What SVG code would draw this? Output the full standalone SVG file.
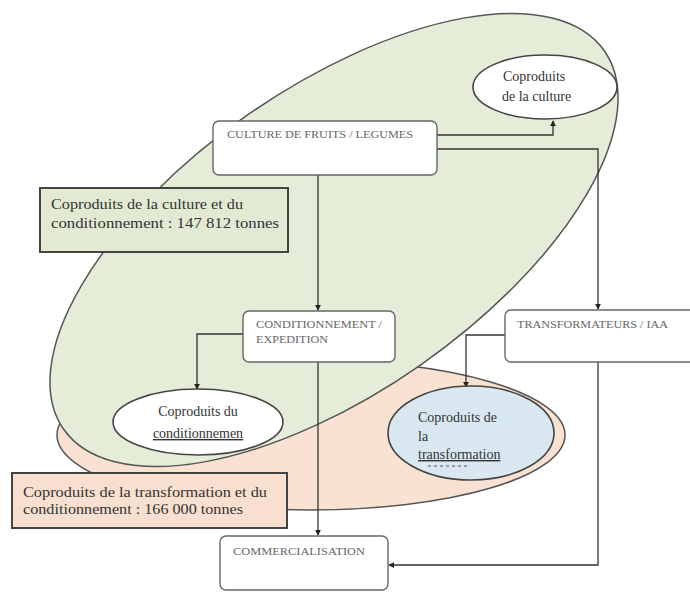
<svg xmlns="http://www.w3.org/2000/svg" width="690" height="592" viewBox="0 0 690 592">
<style>
.zone{stroke:#555;stroke-width:1.5}
.box{fill:#fff;stroke:#666;stroke-width:1.4}
.lbl{font-family:"Liberation Serif","Times New Roman","DejaVu Serif",serif;font-size:9.5px;fill:#666}
.big{font-family:"Liberation Serif","Times New Roman","DejaVu Serif",serif;font-size:14px;fill:#333}
.oval{stroke:#444;stroke-width:1.6}
.sum{stroke:#444;stroke-width:2}
.con{fill:none;stroke:#333;stroke-width:1.3}
</style>
<defs>
<marker id="ah" viewBox="0 0 8 8" refX="7" refY="4" markerWidth="6" markerHeight="6" orient="auto" markerUnits="userSpaceOnUse">
<path d="M0,0 L8,4 L0,8 z" fill="#222"/>
</marker>
</defs>
<rect width="690" height="592" fill="#fff"/>
<g id="zone-transformation">
<ellipse class="zone" cx="311" cy="435" rx="254" ry="75" fill="#fae2d3"/>
</g>
<g id="zone-culture">
<ellipse class="zone" cx="334" cy="240" rx="330" ry="152" fill="#e5edd9" transform="rotate(-35 334 240)"/>
</g>
<g id="connectors">
<path class="con" d="M437,135 H553 V121" marker-end="url(#ah)"/>
<path class="con" d="M437,149 H598 V309" marker-end="url(#ah)"/>
<path class="con" d="M318,175 V310" marker-end="url(#ah)"/>
<path class="con" d="M243,334 H197 V389" marker-end="url(#ah)"/>
<path class="con" d="M505,335 H466 V387" marker-end="url(#ah)"/>
<path class="con" d="M318,362 V535" marker-end="url(#ah)"/>
<path class="con" d="M598,362 V565 H389" marker-end="url(#ah)"/>
</g>
<g id="coproduits-culture">
<ellipse class="oval" cx="545" cy="87" rx="72" ry="32" fill="#fff"/>
<text class="big" x="503" y="81">Coproduits</text>
<text class="big" x="502" y="101">de la culture</text>
</g>
<g id="culture">
<rect class="box" x="213" y="121" width="224" height="54" rx="6"/>
<text class="lbl" x="227" y="138" textLength="186" lengthAdjust="spacingAndGlyphs">CULTURE DE FRUITS / LEGUMES</text>
</g>
<g id="total-culture">
<rect class="sum" x="40" y="188" width="248" height="64" fill="#e2ead4"/>
<text class="big" x="51" y="209" textLength="192" lengthAdjust="spacingAndGlyphs">Coproduits de la culture et du</text>
<text class="big" x="51" y="228" textLength="228" lengthAdjust="spacingAndGlyphs">conditionnement : 147 812 tonnes</text>
</g>
<g id="conditionnement">
<rect class="box" x="243" y="311" width="152" height="51" rx="6"/>
<text class="lbl" x="256" y="328" textLength="126" lengthAdjust="spacingAndGlyphs">CONDITIONNEMENT /</text>
<text class="lbl" x="256" y="343" textLength="72" lengthAdjust="spacingAndGlyphs">EXPEDITION</text>
</g>
<g id="transformateurs">
<rect class="box" x="505" y="310" width="200" height="52" rx="6"/>
<text class="lbl" x="517" y="328" textLength="151" lengthAdjust="spacingAndGlyphs">TRANSFORMATEURS / IAA</text>
</g>
<g id="coproduits-conditionnement">
<ellipse class="oval" cx="198" cy="422" rx="85" ry="33" fill="#fff"/>
<text class="big" x="198" y="416" text-anchor="middle">Coproduits du</text>
<text class="big" x="198" y="438" text-anchor="middle" text-decoration="underline">conditionnemen</text>
</g>
<g id="coproduits-transformation">
<ellipse class="oval" cx="471" cy="433" rx="83" ry="47" fill="#d9e8f0"/>
<text class="big" x="418" y="422">Coproduits de</text>
<text class="big" x="418" y="441">la</text>
<text class="big" x="418" y="459" text-decoration="underline">transformation</text>
<line x1="428" y1="466" x2="467" y2="466" stroke="#555" stroke-width="1" stroke-dasharray="3,3"/>
</g>
<g id="total-transformation">
<rect class="sum" x="12" y="473" width="275" height="55" fill="#f8dfcf"/>
<text class="big" x="23" y="497" textLength="244" lengthAdjust="spacingAndGlyphs">Coproduits de la transformation et du</text>
<text class="big" x="23" y="514" textLength="220" lengthAdjust="spacingAndGlyphs">conditionnement : 166 000 tonnes</text>
</g>
<g id="commercialisation">
<rect class="box" x="220" y="536" width="168" height="54" rx="6"/>
<text class="lbl" x="233" y="555" textLength="132" lengthAdjust="spacingAndGlyphs">COMMERCIALISATION</text>
</g>
</svg>
